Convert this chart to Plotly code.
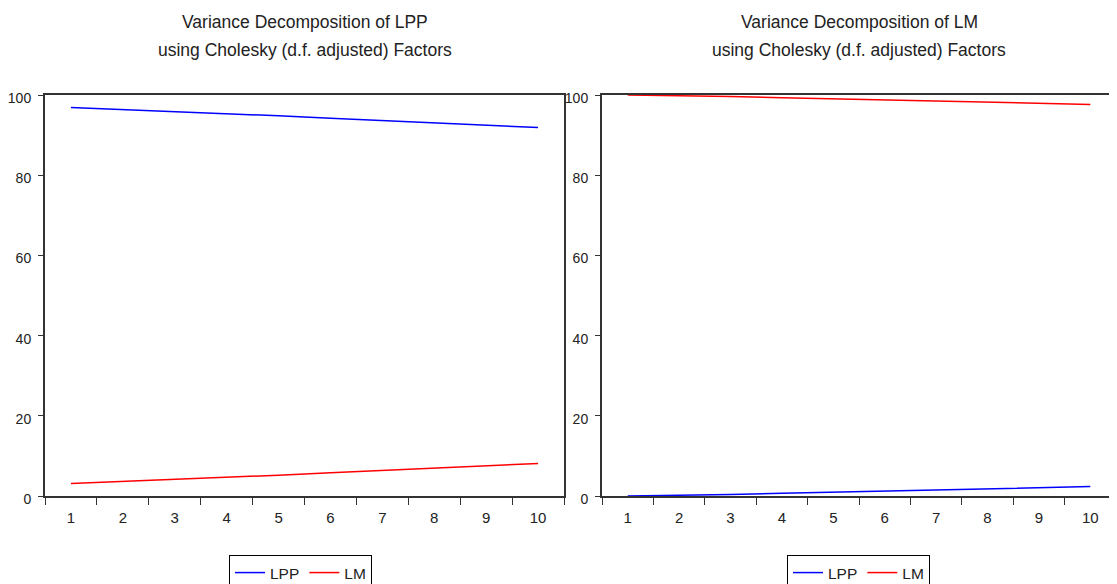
import plotly.graph_objects as go

periods = ["1", "2", "3", "4", "5", "6", "7", "8", "9", "10"]

# Variance Decomposition of LPP
lpp_of_lpp = [96.9, 96.4, 95.9, 95.3, 94.8, 94.2, 93.6, 93.1, 92.5, 91.9]
lm_of_lpp = [3.1, 3.6, 4.1, 4.7, 5.2, 5.8, 6.4, 6.9, 7.5, 8.1]

# Variance Decomposition of LM
lpp_of_lm = [0.0, 0.12, 0.38, 0.66, 0.95, 1.24, 1.53, 1.8, 2.07, 2.35]
lm_of_lm = [100.0, 99.88, 99.62, 99.34, 99.05, 98.76, 98.47, 98.2, 97.93, 97.65]

title_line1 = ["Variance Decomposition of LPP", "Variance Decomposition of LM"]
title_line2 = ["using Cholesky (d.f. adjusted) Factors", "using Cholesky (d.f. adjusted) Factors"]
yticks = [0, 20, 40, 60, 80, 100]

FONT = "Liberation Sans, Arial, sans-serif"
# page body has an 8px margin: draw in a 1109x576 figure, offset by 8px
OFF = 8
W, H = 1117 - OFF, 584 - OFF


def px_x(X):
    return (X - OFF) / W


def px_y(Y):
    return 1 - (Y - OFF) / H


fig = go.Figure()

fig.add_trace(go.Scatter(x=periods, y=lpp_of_lpp, mode="lines", name="LPP",
                         line=dict(color="#0000FF", width=1.5),
                         xaxis="x", yaxis="y", legend="legend"))
fig.add_trace(go.Scatter(x=periods, y=lm_of_lpp, mode="lines", name="LM",
                         line=dict(color="#FF0000", width=1.5),
                         xaxis="x", yaxis="y", legend="legend"))
fig.add_trace(go.Scatter(x=periods, y=lpp_of_lm, mode="lines", name="LPP",
                         line=dict(color="#0000FF", width=1.5),
                         xaxis="x2", yaxis="y2", legend="legend2"))
fig.add_trace(go.Scatter(x=periods, y=lm_of_lm, mode="lines", name="LM",
                         line=dict(color="#FF0000", width=1.5),
                         xaxis="x2", yaxis="y2", legend="legend2"))

ydom = [px_y(496), px_y(95)]
xdom1 = [px_x(45), px_x(564)]
xdom2 = [px_x(602), px_x(1116)]

xcommon = dict(type="category", tickson="boundaries", ticks="outside", ticklen=7,
               tickwidth=1, tickcolor="#333333", showline=True, linecolor="#333333",
               linewidth=2, mirror=True, showgrid=False, zeroline=False,
               range=[-0.5, 9.5], tickfont=dict(size=15, color="#222222"),
               ticklabelstandoff=7, fixedrange=True)
ycommon = dict(range=[0, 100], tickvals=yticks, ticks="outside", ticklen=5,
               tickwidth=1, tickcolor="#333333", showline=True, linecolor="#333333",
               linewidth=2, mirror=True, showgrid=False, zeroline=False,
               tickfont=dict(size=14, color="#222222"), ticklabelstandoff=4,
               ticklabelshift=3, fixedrange=True)

legcommon = dict(orientation="h", bordercolor="black", borderwidth=1,
                 bgcolor="white", font=dict(size=15.5, color="#222222"),
                 yanchor="top", xanchor="left", y=px_y(555),
                 itemwidth=30, tracegroupgap=0)

annots = []
for i, dom in enumerate([xdom1, xdom2]):
    cx = (dom[0] + dom[1]) / 2
    for txt, ypx in [(title_line1[i], 22), (title_line2[i], 50)]:
        annots.append(dict(text=txt, x=cx, y=px_y(ypx), xref="paper", yref="paper",
                           xanchor="center", yanchor="middle", showarrow=False,
                           font=dict(size=17.5, color="#222222")))

fig.update_layout(
    width=W, height=H,
    margin=dict(l=0, r=0, t=0, b=0, autoexpand=False),
    paper_bgcolor="white", plot_bgcolor="white",
    font=dict(family=FONT, color="#222222"),
    xaxis=dict(domain=xdom1, anchor="y", **xcommon),
    yaxis=dict(domain=ydom, anchor="x", **ycommon),
    xaxis2=dict(domain=xdom2, anchor="y2", **xcommon),
    yaxis2=dict(domain=ydom, anchor="x2", **ycommon),
    legend=dict(x=px_x(229), **legcommon),
    legend2=dict(x=px_x(787), **legcommon),
    annotations=annots,
)

fig.write_html("out.html")
